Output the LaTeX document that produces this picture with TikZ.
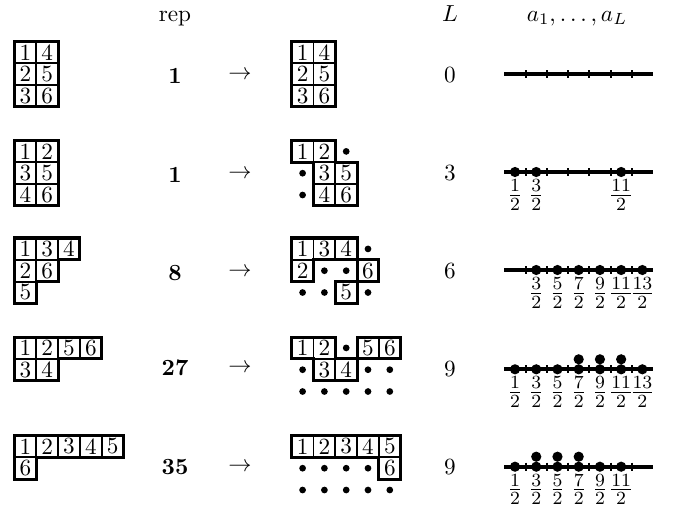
\documentclass[tikz,border=0pt]{standalone}
\begin{document}
\begin{tikzpicture}[x=0.431pt,y=-0.431pt,
  cellline/.style={line width=0.8pt},
  outline/.style={line width=1.3pt,line join=miter},
  celltext/.style={inner sep=0pt,font=\normalsize},
  hdr/.style={anchor=base,inner sep=0pt},
  num/.style={inner sep=0pt},
  tick/.style={line width=0.9pt},
  axis/.style={line width=1.6pt},
  frac/.style={anchor=base,inner sep=0pt,font=\fontsize{10.95}{13}\selectfont}]
\useasboundingbox (0,0) rectangle (676,512);
\newcommand{\tabcell}[4]{\draw[cellline] (#1,#2) rectangle ++(1,1);
  \node[celltext] (#4) at (#1+0.5,#2+0.5) {#3};}
\newcommand{\tabdot}[2]{\fill (#1+0.5,#2+0.5) circle[radius=1.45pt];}
% headers
\node[hdr] (hrep) at (175,21.5) {rep};
\node[hdr] (hL) at (450,21.5) {$L$};
\node[hdr] (ha) at (577,21.5) {$a_1,\ldots,a_L$};
% numbers column
\node[num] (rep1) at (175,76) {\textbf{1}};
\node[num] (rep2) at (175,175) {\textbf{1}};
\node[num] (rep3) at (175,273) {\textbf{8}};
\node[num] (rep4) at (175,368) {\textbf{27}};
\node[num] (rep5) at (175,467) {\textbf{35}};
\node[num] (arr1) at (240,75) {$\rightarrow$};
\node[num] (arr2) at (240,174) {$\rightarrow$};
\node[num] (arr3) at (240,272) {$\rightarrow$};
\node[num] (arr4) at (240,368) {$\rightarrow$};
\node[num] (arr5) at (240,467) {$\rightarrow$};
\node[num] (L1) at (450,75) {0};
\node[num] (L2) at (450,173) {3};
\node[num] (L3) at (450,271) {6};
\node[num] (L4) at (450,369) {9};
\node[num] (L5) at (450,467) {9};
% ---------- row 1
\begin{scope}[shift={(14.5*0.431pt,-41.5*0.431pt)},x=9.396pt,y=-9.396pt]
\tabcell{0}{0}{1}{a1} \tabcell{1}{0}{4}{a4}
\tabcell{0}{1}{2}{a2} \tabcell{1}{1}{5}{a5}
\tabcell{0}{2}{3}{a3} \tabcell{1}{2}{6}{a6}
\draw[outline] (0,0) rectangle (2,3);
\end{scope}
\begin{scope}[shift={(291.7*0.431pt,-41.5*0.431pt)},x=9.396pt,y=-9.396pt]
\tabcell{0}{0}{1}{b1} \tabcell{1}{0}{4}{b4}
\tabcell{0}{1}{2}{b2} \tabcell{1}{1}{5}{b5}
\tabcell{0}{2}{3}{b3} \tabcell{1}{2}{6}{b6}
\draw[outline] (0,0) rectangle (2,3);
\end{scope}
% ---------- row 2
\begin{scope}[shift={(14.5*0.431pt,-140.5*0.431pt)},x=9.396pt,y=-9.396pt]
\tabcell{0}{0}{1}{c1} \tabcell{1}{0}{2}{c2}
\tabcell{0}{1}{3}{c3} \tabcell{1}{1}{5}{c5}
\tabcell{0}{2}{4}{c4} \tabcell{1}{2}{6}{c6}
\draw[outline] (0,0) rectangle (2,3);
\end{scope}
\begin{scope}[shift={(291.7*0.431pt,-140.5*0.431pt)},x=9.396pt,y=-9.396pt]
\tabcell{0}{0}{1}{d1} \tabcell{1}{0}{2}{d2}
\tabcell{1}{1}{3}{d3} \tabcell{2}{1}{5}{d5}
\tabcell{1}{2}{4}{d4} \tabcell{2}{2}{6}{d6}
\tabdot{2}{0} \tabdot{0}{1} \tabdot{0}{2}
\draw[outline] (0,0) -- (2,0) -- (2,1) -- (3,1) -- (3,3) -- (1,3) -- (1,1) -- (0,1) -- cycle;
\end{scope}
% ---------- row 3
\begin{scope}[shift={(14.5*0.431pt,-238*0.431pt)},x=9.396pt,y=-9.396pt]
\tabcell{0}{0}{1}{e1} \tabcell{1}{0}{3}{e3} \tabcell{2}{0}{4}{e4}
\tabcell{0}{1}{2}{e2} \tabcell{1}{1}{6}{e6}
\tabcell{0}{2}{5}{e5}
\draw[outline] (0,0) -- (3,0) -- (3,1) -- (2,1) -- (2,2) -- (1,2) -- (1,3) -- (0,3) -- cycle;
\end{scope}
\begin{scope}[shift={(291.7*0.431pt,-238*0.431pt)},x=9.396pt,y=-9.396pt]
\tabcell{0}{0}{1}{f1} \tabcell{1}{0}{3}{f3} \tabcell{2}{0}{4}{f4}
\tabcell{0}{1}{2}{f2} \tabcell{3}{1}{6}{f6}
\tabcell{2}{2}{5}{f5}
\tabdot{3}{0} \tabdot{1}{1} \tabdot{2}{1} \tabdot{0}{2} \tabdot{1}{2} \tabdot{3}{2}
\draw[outline] (0,0) -- (3,0) -- (3,1) -- (1,1) -- (1,2) -- (0,2) -- cycle;
\draw[outline] (3,1) rectangle (4,2);
\draw[outline] (2,2) rectangle (3,3);
\end{scope}
% ---------- row 4
\begin{scope}[shift={(14.5*0.431pt,-337*0.431pt)},x=9.396pt,y=-9.396pt]
\tabcell{0}{0}{1}{g1} \tabcell{1}{0}{2}{g2} \tabcell{2}{0}{5}{g5} \tabcell{3}{0}{6}{g6}
\tabcell{0}{1}{3}{g3} \tabcell{1}{1}{4}{g4}
\draw[outline] (0,0) -- (4,0) -- (4,1) -- (2,1) -- (2,2) -- (0,2) -- cycle;
\end{scope}
\begin{scope}[shift={(291.7*0.431pt,-337*0.431pt)},x=9.396pt,y=-9.396pt]
\tabcell{0}{0}{1}{h1} \tabcell{1}{0}{2}{h2} \tabcell{3}{0}{5}{h5} \tabcell{4}{0}{6}{h6}
\tabcell{1}{1}{3}{h3} \tabcell{2}{1}{4}{h4}
\tabdot{2}{0} \tabdot{0}{1} \tabdot{3}{1} \tabdot{4}{1}
\foreach \c in {0,...,4} {\tabdot{\c}{2}}
\draw[outline] (0,0) -- (2,0) -- (2,1) -- (3,1) -- (3,2) -- (1,2) -- (1,1) -- (0,1) -- cycle;
\draw[outline] (3,0) rectangle (5,1);
\end{scope}
% ---------- row 5
\begin{scope}[shift={(14.5*0.431pt,-435.5*0.431pt)},x=9.396pt,y=-9.396pt]
\tabcell{0}{0}{1}{i1} \tabcell{1}{0}{2}{i2} \tabcell{2}{0}{3}{i3} \tabcell{3}{0}{4}{i4} \tabcell{4}{0}{5}{i5}
\tabcell{0}{1}{6}{i6}
\draw[outline] (0,0) -- (5,0) -- (5,1) -- (1,1) -- (1,2) -- (0,2) -- cycle;
\end{scope}
\begin{scope}[shift={(291.7*0.431pt,-435.5*0.431pt)},x=9.396pt,y=-9.396pt]
\tabcell{0}{0}{1}{j1} \tabcell{1}{0}{2}{j2} \tabcell{2}{0}{3}{j3} \tabcell{3}{0}{4}{j4} \tabcell{4}{0}{5}{j5}
\tabcell{4}{1}{6}{j6}
\foreach \c in {0,...,3} {\tabdot{\c}{1}}
\foreach \c in {0,...,4} {\tabdot{\c}{2}}
\draw[outline] (0,0) -- (5,0) -- (5,2) -- (4,2) -- (4,1) -- (0,1) -- cycle;
\end{scope}
% ---------- number lines
\begin{scope}[shift={(504.4*0.431pt,-74*0.431pt)},x=9.15pt,y=-0.431pt]
\draw[axis] (0,0) -- (7,0);
\foreach \k in {1,...,6} {\draw[tick] (\k,-4) -- (\k,4);}
\end{scope}
\begin{scope}[shift={(504.4*0.431pt,-172*0.431pt)},x=9.15pt,y=-0.431pt]
\draw[axis] (0,0) -- (7,0);
\foreach \k in {1,...,6} {\draw[tick] (\k,-4) -- (\k,4);}
\foreach \p in {0.5,1.5,5.5} {\fill (\p,0) circle[radius=2.2pt];}
\foreach \p/\nm in {0.5/1,1.5/3,5.5/11} {\node[frac] (fb-\nm) at (\p,29.5) {$\frac{\nm}{2}$};}
\end{scope}
\begin{scope}[shift={(504.4*0.431pt,-270*0.431pt)},x=9.15pt,y=-0.431pt]
\draw[axis] (0,0) -- (7,0);
\foreach \k in {1,...,6} {\draw[tick] (\k,-4) -- (\k,4);}
\foreach \p in {1.5,2.5,3.5,4.5,5.5,6.5} {\fill (\p,0) circle[radius=2.2pt];}
\foreach \p/\nm in {1.5/3,2.5/5,3.5/7,4.5/9,5.5/11,6.5/13} {\node[frac] (fc-\nm) at (\p,29.5) {$\frac{\nm}{2}$};}
\end{scope}
\begin{scope}[shift={(504.4*0.431pt,-369.3*0.431pt)},x=9.15pt,y=-0.431pt]
\draw[axis] (0,0) -- (7,0);
\foreach \k in {1,...,6} {\draw[tick] (\k,-4) -- (\k,4);}
\foreach \p in {0.5,1.5,2.5,3.5,4.5,5.5,6.5} {\fill (\p,0) circle[radius=2.2pt];}
\foreach \p in {3.5,4.5,5.5} {\fill (\p,-10) circle[radius=2.2pt];}
\foreach \p/\nm in {0.5/1,1.5/3,2.5/5,3.5/7,4.5/9,5.5/11,6.5/13} {\node[frac] (fd-\nm) at (\p,29.5) {$\frac{\nm}{2}$};}
\end{scope}
\begin{scope}[shift={(504.4*0.431pt,-466.7*0.431pt)},x=9.15pt,y=-0.431pt]
\draw[axis] (0,0) -- (7,0);
\foreach \k in {1,...,6} {\draw[tick] (\k,-4) -- (\k,4);}
\foreach \p in {0.5,1.5,2.5,3.5,4.5,5.5} {\fill (\p,0) circle[radius=2.2pt];}
\foreach \p in {1.5,2.5,3.5} {\fill (\p,-10) circle[radius=2.2pt];}
\foreach \p/\nm in {0.5/1,1.5/3,2.5/5,3.5/7,4.5/9,5.5/11} {\node[frac] (fe-\nm) at (\p,29.5) {$\frac{\nm}{2}$};}
\end{scope}
\end{tikzpicture}
\end{document}
